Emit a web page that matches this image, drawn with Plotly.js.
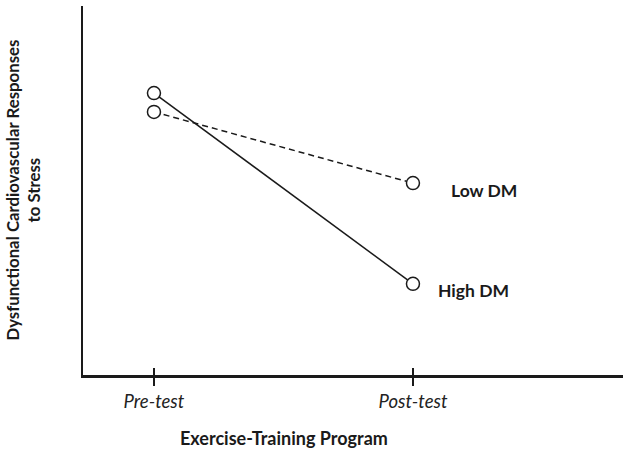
<!DOCTYPE html>
<html>
<head>
<meta charset="utf-8">
<script src="https://cdn.plot.ly/plotly-3.0.1.min.js"></script>
<style>html,body{margin:0;padding:0;background:#fff;}#chart{width:630px;height:451px;}</style>
</head>
<body>
<div id="chart"></div>
<script>
// Data
var phases = [0, 1];
var phaseLabels = ["Pre-test", "Post-test"];
var highDM = [7.64, 2.47];
var lowDM = [7.13, 5.20];
var seriesNames = ["High DM", "Low DM"];

var FONT = "Lato, 'Open Sans', sans-serif";
var INK = "#1a1a1a";

var markerStyle = {symbol: "circle", size: 13, color: "#ffffff", line: {color: INK, width: 1.5}};

var traces = [
  {x: phases, y: highDM, name: seriesNames[0], mode: "lines+markers", type: "scatter",
   line: {color: INK, width: 1.5}, marker: markerStyle, cliponaxis: false},
  {x: phases, y: lowDM, name: seriesNames[1], mode: "lines+markers", type: "scatter",
   line: {color: INK, width: 1.5, dash: "6px,4px"}, marker: markerStyle, cliponaxis: false},
  // invisible trace for the overlay axis holding the inner half of the crossing ticks
  {x: phases, y: lowDM, xaxis: "x2", mode: "markers", marker: {opacity: 0}, hoverinfo: "skip", showlegend: false}
];

var layout = {
  width: 630, height: 451,
  margin: {l: 83, r: 7, t: 6, b: 76},
  paper_bgcolor: "#fff", plot_bgcolor: "#fff",
  showlegend: false,
  font: {family: FONT, color: INK},
  xaxis: {
    range: [-0.274, 1.811], tickvals: phases, ticktext: phaseLabels,
    showgrid: false, zeroline: false, showline: true, linecolor: INK, linewidth: 2.5,
    ticks: "outside", ticklen: 8, tickwidth: 2.5, tickcolor: INK,
    tickfont: {family: FONT, size: 18.5, style: "italic", color: "#222"},
    ticklabelstandoff: 0
  },
  xaxis2: {
    overlaying: "x", matches: "x", range: [-0.274, 1.811], tickvals: phases,
    showticklabels: false, showgrid: false, zeroline: false, showline: false,
    ticks: "inside", ticklen: 7, tickwidth: 2.5, tickcolor: INK, anchor: "y", side: "bottom"
  },
  yaxis: {
    range: [0, 10], showgrid: false, zeroline: false, showline: true, linecolor: INK, linewidth: 2.5,
    ticks: "", showticklabels: false
  },
  annotations: [
    {text: "<b>Low DM</b>", x: phases[1], y: lowDM[1], xref: "x", yref: "y", xanchor: "left", yanchor: "middle",
     xshift: 36, yshift: -7, showarrow: false, font: {family: FONT, size: 17.5, color: INK}},
    {text: "<b>High DM</b>", x: phases[1], y: highDM[1], xref: "x", yref: "y", xanchor: "left", yanchor: "middle",
     xshift: 23, yshift: -7, showarrow: false, font: {family: FONT, size: 17.5, color: INK}},
    {text: "<b>Exercise-Training Program</b>", xref: "paper", yref: "paper", x: 0.372, y: -0.171,
     xanchor: "center", yanchor: "middle", showarrow: false, font: {family: FONT, size: 18, color: INK}},
    {text: "<b>Dysfunctional Cardiovascular Responses<br>to Stress</b>", xref: "paper", yref: "paper",
     x: -0.111, y: 0.5, xanchor: "center", yanchor: "middle", textangle: -90, showarrow: false,
     font: {family: FONT, size: 16.8, color: INK}}
  ]
};

Plotly.newPlot("chart", traces, layout, {staticPlot: true, displayModeBar: false});
</script>
</body>
</html>
